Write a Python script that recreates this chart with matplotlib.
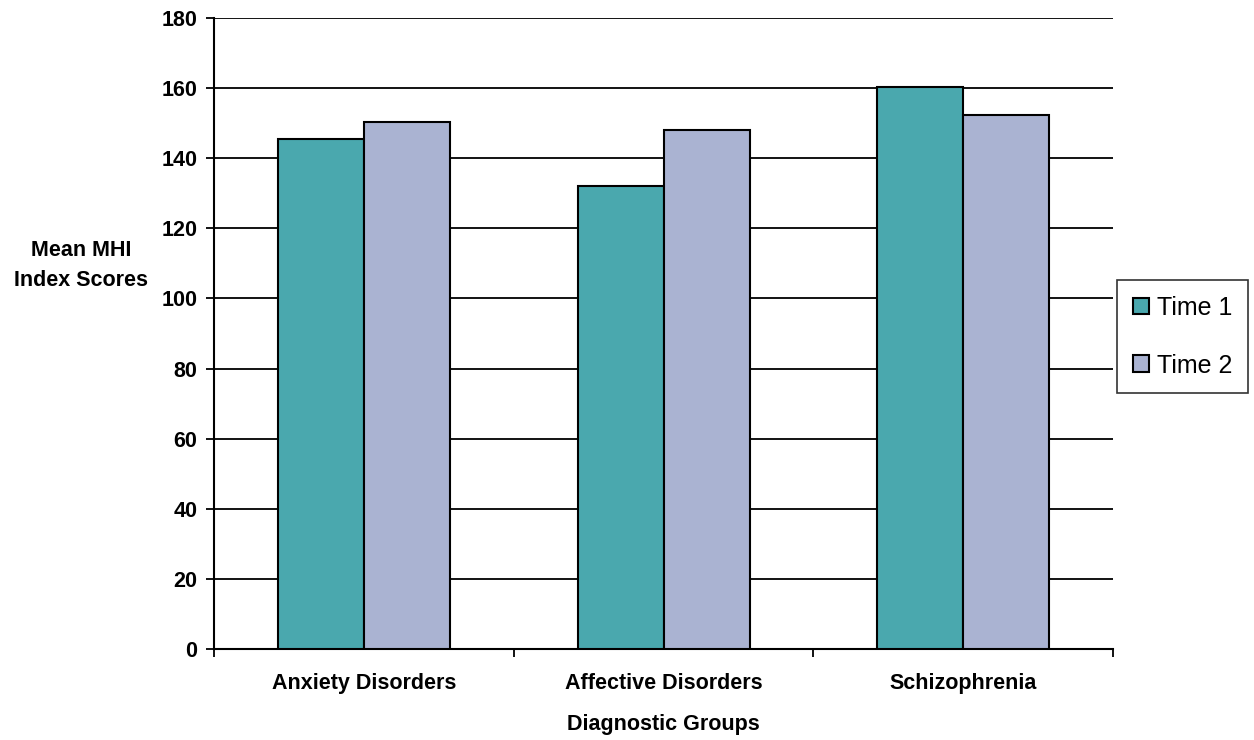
import matplotlib.pyplot as plt
import numpy as np

plt.rcParams['font.family'] = ['Liberation Sans', 'DejaVu Sans']

groups = ['Anxiety Disorders', 'Affective Disorders', 'Schizophrenia']
time1 = [145.6, 132.0, 160.4]
time2 = [150.3, 148.0, 152.4]
series_names = ['Time 1', 'Time 2']
colors = ['#4aa8ae', '#aab3d2']

fig = plt.figure(figsize=(12.54, 7.40), dpi=100)
ax = fig.add_axes([0.1707, 0.123, 0.7169, 0.8527])

x = np.arange(len(groups))
w = 0.287
ax.bar(x - w / 2, time1, w, color=colors[0], edgecolor='black', linewidth=1.5,
       label=series_names[0], zorder=3)
ax.bar(x + w / 2, time2, w, color=colors[1], edgecolor='black', linewidth=1.5,
       label=series_names[1], zorder=3)

ax.set_xlim(-0.5, len(groups) - 0.5)
ax.set_ylim(0, 180)
ax.set_yticks(np.arange(0, 181, 20))
ax.yaxis.grid(True, color='black', linewidth=1.3, zorder=0)
ax.set_axisbelow(True)

# category labels without ticks, boundary ticks pointing down
ax.set_xticks(x)
ax.set_xticklabels(groups, fontsize=15.5, fontweight='bold')
ax.tick_params(axis='x', length=0, pad=17)
ax.set_xticks(np.arange(-0.5, len(groups)), minor=True)
ax.tick_params(axis='x', which='minor', length=6, width=1.3, direction='out')
ax.tick_params(axis='y', length=6, width=1.3, direction='out', labelsize=15.5, pad=6)
for lab in ax.get_yticklabels():
    lab.set_fontweight('bold')

for s in ['top', 'right']:
    ax.spines[s].set_visible(False)
for s in ['left', 'bottom']:
    ax.spines[s].set_linewidth(1.5)

ax.set_xlabel('Diagnostic Groups', fontsize=15.5, fontweight='bold', labelpad=15)
fig.text(0.0646, 0.641, 'Mean MHI\nIndex Scores', fontsize=15.5, fontweight='bold',
         ha='center', va='center', linespacing=1.6)

leg = ax.legend(loc='center left', bbox_to_anchor=(1.0045, 0.495), fontsize=18,
                frameon=True, fancybox=False, edgecolor='black', handlelength=0.65,
                handleheight=0.65, handletextpad=0.32, labelspacing=1.35,
                borderpad=0.62, borderaxespad=0)
leg.get_frame().set_linewidth(1.2)

fig.savefig('out.png', dpi=100, facecolor='white')
